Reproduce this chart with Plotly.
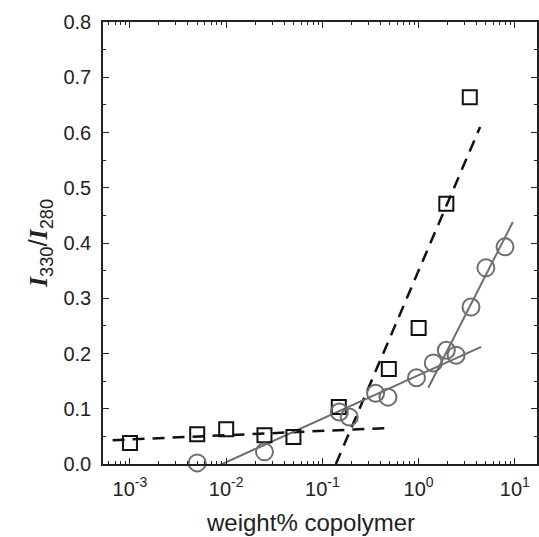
import plotly.graph_objects as go

# data
sq_x = [0.001, 0.005, 0.01, 0.025, 0.05, 0.148, 0.49, 1.0, 1.94, 3.4]
sq_y = [0.038, 0.054, 0.063, 0.052, 0.049, 0.103, 0.172, 0.246, 0.471, 0.664]
ci_x = [0.005, 0.025, 0.15, 0.19, 0.357, 0.48, 0.95, 1.42, 1.94, 2.45, 3.5, 5.0, 7.9]
ci_y = [0.002, 0.022, 0.094, 0.085, 0.128, 0.121, 0.156, 0.183, 0.206, 0.197, 0.284, 0.355, 0.393]
dash1_x = [0.00066, 0.46]
dash1_y = [0.043, 0.065]
dash2_x = [0.138, 4.35]
dash2_y = [0.0, 0.61]
fit1_x = [0.0057, 4.46]
fit1_y = [-0.016, 0.212]
fit2_x = [1.26, 9.53]
fit2_y = [0.138, 0.438]
x_tickvals = [0.001, 0.01, 0.1, 1, 10]
x_ticktext = ["10<sup>-3</sup>", "10<sup>-2</sup>", "10<sup>-1</sup>", "10<sup>0</sup>", "10<sup>1</sup>"]

BLACK = "#111111"
GRAY = "#6e6e6e"

fig = go.Figure()
fig.add_trace(go.Scatter(x=dash1_x, y=dash1_y, mode="lines",
                         line=dict(color=BLACK, width=2.5, dash="12px,8px"), showlegend=False))
fig.add_trace(go.Scatter(x=dash2_x, y=dash2_y, mode="lines",
                         line=dict(color=BLACK, width=2.5, dash="12px,8px"), showlegend=False))
fig.add_trace(go.Scatter(x=fit1_x, y=fit1_y, mode="lines",
                         line=dict(color=GRAY, width=2), showlegend=False))
fig.add_trace(go.Scatter(x=fit2_x, y=fit2_y, mode="lines",
                         line=dict(color=GRAY, width=2), showlegend=False))
fig.add_trace(go.Scatter(x=sq_x, y=sq_y, mode="markers", cliponaxis=False,
                         marker=dict(symbol="square-open", size=14, color=BLACK,
                                     line=dict(color=BLACK, width=2)), showlegend=False))
fig.add_trace(go.Scatter(x=ci_x, y=ci_y, mode="markers", cliponaxis=False,
                         marker=dict(symbol="circle-open", size=17, color=GRAY,
                                     line=dict(color=GRAY, width=2)), showlegend=False))

fig.update_layout(
    width=539, height=537,
    margin=dict(l=103, r=0, t=22, b=73),
    paper_bgcolor="white", plot_bgcolor="white",
    font=dict(family="Liberation Sans, Arial, sans-serif", color="#222222"),
    annotations=[dict(text="weight% copolymer", xref="paper", yref="paper",
                      x=(311 - 103) / 436, y=-(522 - 464) / 442,
                      xanchor="center", yanchor="middle", showarrow=False,
                      font=dict(size=24, color="#222"))],
)
fig.update_xaxes(
    type="log", range=[-3.28, 1.23],
    tickvals=x_tickvals, ticktext=x_ticktext,
    ticks="inside", ticklen=6, tickwidth=1.3, tickcolor="#222",
    minor=dict(ticks="inside", ticklen=3, tickwidth=1, tickcolor="#222", dtick="D1"),
    showline=True, linecolor="#222", linewidth=1.5, mirror="allticks",
    showgrid=False, zeroline=False,
    tickfont=dict(size=20, color="#222"),
    ticklabelstandoff=6,
)
I_SPAN = "<span style=\"font-family:'Liberation Serif'\"><b><i>I</i></b></span>"
fig.update_yaxes(
    range=[0, 0.8], dtick=0.1, tickformat=".1f",
    ticks="inside", ticklen=6, tickwidth=1.3, tickcolor="#222",
    minor=dict(ticks="inside", ticklen=3, tickwidth=1, tickcolor="#222", dtick=0.05),
    showline=True, linecolor="#222", linewidth=1.5, mirror="ticks",
    showgrid=False, zeroline=False,
    tickfont=dict(size=20, color="#222"),
    ticklabelstandoff=6,
    title=dict(text=I_SPAN + "<sub>330</sub>/" + I_SPAN + "<sub>280</sub>",
               font=dict(size=26, color="#222", family="Liberation Sans"), standoff=8),
)

fig.write_html("out.html")
